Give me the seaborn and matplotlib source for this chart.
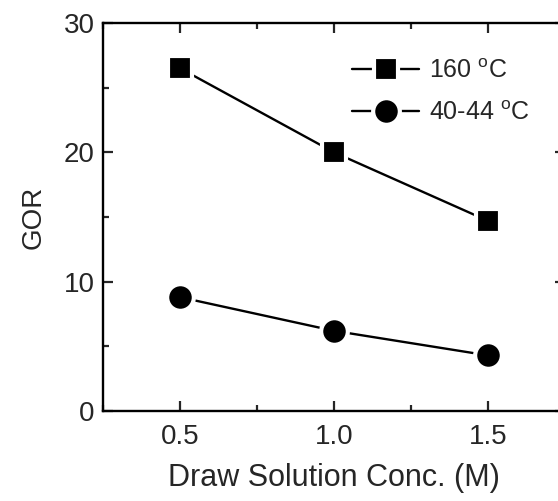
import numpy as np
import pandas as pd
import matplotlib
matplotlib.use("Agg")
import matplotlib.pyplot as plt
from matplotlib.ticker import MultipleLocator
import seaborn as sns

conc = [0.5, 1.0, 1.5]
gor_160 = [26.5, 20.0, 14.7]
gor_40 = [8.8, 6.2, 4.3]
labels = ["160 $^{\\mathrm{o}}$C", "40-44 $^{\\mathrm{o}}$C"]

df = pd.DataFrame({"conc": conc * 2,
                   "gor": gor_160 + gor_40,
                   "series": [labels[0]] * 3 + [labels[1]] * 3})

sns.set_style("ticks")
plt.rcParams["font.family"] = ["Liberation Sans", "DejaVu Sans"]
plt.rcParams["mathtext.fontset"] = "custom"
plt.rcParams["mathtext.rm"] = "Liberation Sans"

fig = plt.figure(figsize=(5.58, 5.01), dpi=100)
ax = fig.add_axes([0.1846, 0.1796, 0.828, 0.7745])

markers = {labels[0]: "s", labels[1]: "o"}
sizes = {labels[0]: 17.8, labels[1]: 19.2}
for lab in labels:
    sub = df[df["series"] == lab]
    sns.lineplot(data=sub, x="conc", y="gor", ax=ax, color="black", lw=1.7,
                 marker=markers[lab], markersize=sizes[lab],
                 markerfacecolor="black", markeredgecolor="white",
                 markeredgewidth=3, label=lab)

ax.set_xlim(0.25, 1.75)
ax.set_ylim(0, 30)
ax.xaxis.set_major_locator(MultipleLocator(0.5))
ax.xaxis.set_minor_locator(MultipleLocator(0.25))
ax.yaxis.set_major_locator(MultipleLocator(10))
ax.yaxis.set_minor_locator(MultipleLocator(5))
ax.set_xticks([0.5, 1.0, 1.5])
ax.set_xticklabels(["0.5", "1.0", "1.5"])
ax.tick_params(which="both", direction="in", top=True, right=True,
               width=1.6, labelsize=20)
ax.tick_params(axis="x", pad=9)
ax.tick_params(axis="y", pad=6)
ax.tick_params(which="major", length=7)
ax.tick_params(which="minor", length=4)
for s in ax.spines.values():
    s.set_linewidth(1.7)
    s.set_color("black")

ax.set_xlabel("Draw Solution Conc. (M)", fontsize=22, labelpad=10)
ax.set_ylabel("GOR", fontsize=20, labelpad=12)

ax.legend(loc="upper left", bbox_to_anchor=(0.49, 0.965), frameon=False,
          fontsize=18, handlelength=2.7, handletextpad=0.4, labelspacing=0.7)

fig.savefig("out.png", dpi=100)
